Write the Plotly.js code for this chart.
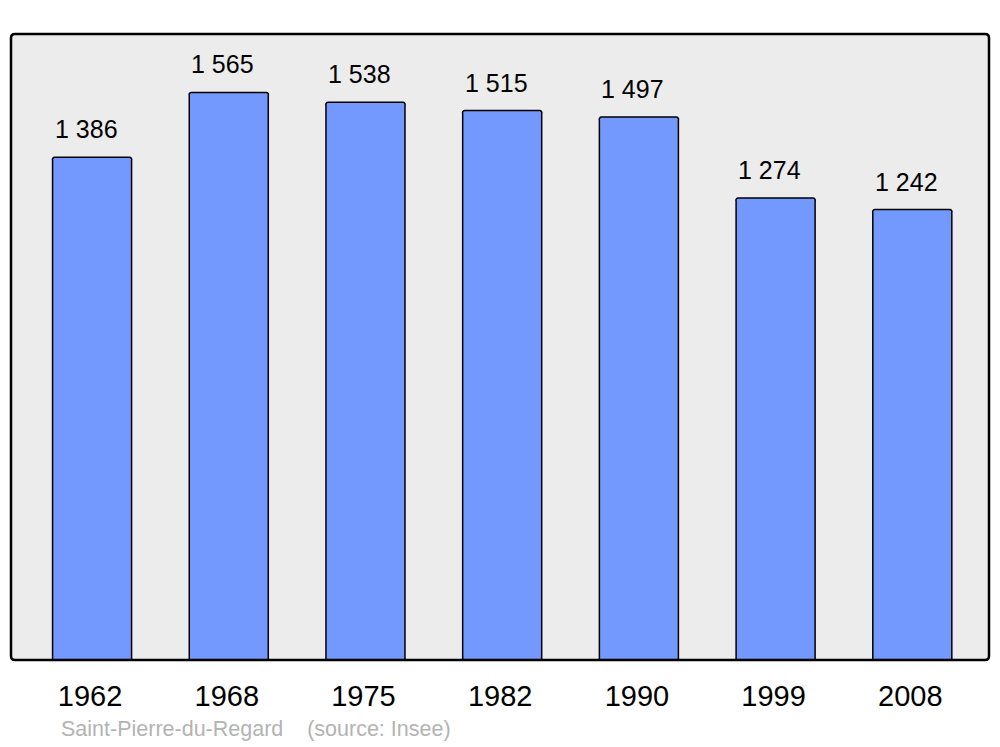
<!DOCTYPE html>
<html>
<head>
<meta charset="utf-8">
<script src="https://cdn.plot.ly/plotly-3.0.1.min.js"></script>
<style>
html,body{margin:0;padding:0;background:#fff;}
#chart{width:1000px;height:747px;}
</style>
</head>
<body>
<div id="chart"></div>
<script>
const years = ["1962", "1968", "1975", "1982", "1990", "1999", "2008"];
const population = [1386, 1565, 1538, 1515, 1497, 1274, 1242];
const labels = ["1 386", "1 565", "1 538", "1 515", "1 497", "1 274", "1 242"];
const sourceText = "Saint-Pierre-du-Regard\u00a0\u00a0\u00a0\u00a0(source: Insee)";

const W = 978, H = 626, r = 4;
const rx = r / W, ry = r / H;
const framePath =
  `M ${rx} 0 L ${1 - rx} 0 Q 1 0 1 ${ry} L 1 ${1 - ry} Q 1 1 ${1 - rx} 1 ` +
  `L ${rx} 1 Q 0 1 0 ${1 - ry} L 0 ${ry} Q 0 0 ${rx} 0 Z`;

const trace = {
  type: "bar",
  x: years,
  y: population,
  width: 0.578,
  marker: {color: "#7399ff", line: {color: "#000", width: 1.5}, cornerradius: 3},
  hoverinfo: "skip"
};

const annotations = years.map((yr, i) => ({
  x: i, y: population[i], xref: "x", yref: "y",
  text: labels[i], showarrow: false,
  xanchor: "center", yanchor: "bottom", xshift: -6, yshift: 12,
  font: {family: "Liberation Sans, Arial, sans-serif", size: 25, color: "#000"}
}));
annotations.push({
  x: (59 - 11) / W, y: (660 - 729) / H, xref: "paper", yref: "paper",
  text: sourceText, showarrow: false, xanchor: "left", yanchor: "middle",
  font: {family: "Liberation Sans, Arial, sans-serif", size: 21.5, color: "#b3b3b3"}
});

const layout = {
  width: 1000, height: 747,
  margin: {l: 11, r: 11, t: 34, b: 87, pad: 0},
  paper_bgcolor: "#fff",
  plot_bgcolor: "#ececec",
  showlegend: false,
  bargap: 0,
  xaxis: {
    type: "category",
    range: [-0.593, 6.561],
    showgrid: false, zeroline: false, showline: false,
    ticks: "outside", ticklen: 10, tickcolor: "rgba(0,0,0,0)",
    ticklabelshift: -2,
    tickfont: {family: "Liberation Sans, Arial, sans-serif", size: 29, color: "#000"},
    fixedrange: true
  },
  yaxis: {
    range: [0, 1726],
    showgrid: false, zeroline: false, showline: false, showticklabels: false, ticks: "",
    fixedrange: true
  },
  shapes: [{
    type: "path", xref: "paper", yref: "paper", path: framePath,
    line: {color: "#000", width: 2.5}, fillcolor: "rgba(0,0,0,0)", layer: "above"
  }],
  annotations: annotations
};

Plotly.newPlot("chart", [trace], layout, {displayModeBar: false, staticPlot: true});
</script>
</body>
</html>
